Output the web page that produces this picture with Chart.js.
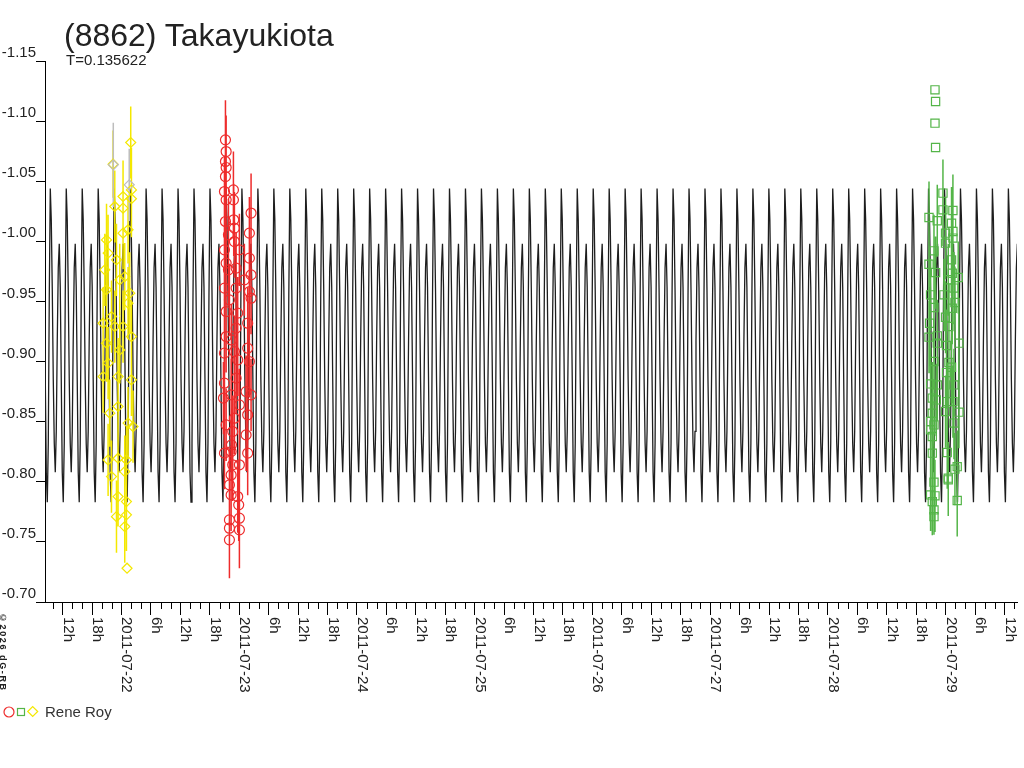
<!DOCTYPE html>
<html>
<head>
<meta charset="utf-8">
<script src="https://cdn.jsdelivr.net/npm/chart.js@4.4.1/dist/chart.umd.min.js"></script>
<style>
html,body{margin:0;padding:0;background:#fff;}
#wrap{position:relative;width:1024px;height:768px;overflow:hidden;font-family:"Liberation Sans",Arial,sans-serif;color:#222;}
#c{position:absolute;left:0;top:0;}
.title{position:absolute;left:64px;top:19px;font-size:32px;line-height:32px;white-space:nowrap;}
.sub{position:absolute;left:66px;top:52px;font-size:15px;line-height:15px;white-space:nowrap;}
.legsym{position:absolute;left:0;top:703px;}
.legtxt{position:absolute;left:45px;top:704px;font-size:15px;line-height:15px;color:#333;white-space:nowrap;}
.copy{position:absolute;left:-1px;top:613px;font-size:9px;line-height:8px;font-weight:bold;writing-mode:vertical-rl;letter-spacing:1.6px;color:#222;white-space:nowrap;}
</style>
</head>
<body>
<div id="wrap">
  <canvas id="c" width="1024" height="768"></canvas>
  <div class="title">(8862) Takayukiota</div>
  <div class="sub">T=0.135622</div>
  <svg class="legsym" width="44" height="18">
    <circle cx="9" cy="9" r="5" fill="none" stroke="#ee2c2c" stroke-width="1.2"/>
    <rect x="17.5" y="5.5" width="7" height="7" fill="none" stroke="#54b548" stroke-width="1.2"/>
    <polygon points="27.7,8.5 32.7,3.5 37.7,8.5 32.7,13.5" fill="none" stroke="#f4e800" stroke-width="1.2"/>
  </svg>
  <div class="legtxt">Rene Roy</div>
  <div class="copy">©2026 dG-RB</div>
</div>
<script>
// ---- axis ranges (days of July 2011, UT) ----
const xMin = 21.3506;
const xMax = 29.6060;
const yTicks = [-1.15, -1.10, -1.05, -1.00, -0.95, -0.90, -0.85, -0.80, -0.75, -0.70];
const dateLabels = ['2011-07-22','2011-07-23','2011-07-24','2011-07-25','2011-07-26','2011-07-27','2011-07-28','2011-07-29'];
const firstDateDay = 22;
const hourLabels = {6: '6h', 12: '12h', 18: '18h'};

// ---- lightcurve model: one cycle of the shape, repeated with period T ----
const period = 0.135622;
const epochMax = 21.6667;
const curveShape = [-1.044, -1.018, -0.960, -0.885, -0.832, -0.808, -0.842, -0.918,
                    -0.978, -0.998, -0.962, -0.885, -0.808, -0.783, -0.832, -0.955];

// ---- observations: yellow diamonds ----
const yellowT = [22.0787, 21.9289, 22.0847, 22.0135, 22.0847, 21.9433, 22.0135, 22.0135, 22.0559, 21.8730,
                 21.8865, 21.9577, 22.0279, 21.8730, 22.0703, 21.9153, 22.0135, 21.8730, 21.9856, 21.8865,
                 21.8442, 21.9712, 22.0847, 21.9712, 21.9009, 22.0559, 22.0982, 21.8865, 22.0423, 21.9712,
                 21.9153, 22.0279, 21.9712, 22.0423, 21.9577, 22.0423, 22.0279, 22.0474, 21.8442, 21.8586,
                 22.0559, 22.0847, 21.9433, 21.9856];
const yellowMag = [-1.0822, -1.0642, -1.0428, -1.0373, -1.0354, -1.0290, -1.0276, -1.0068, -1.0096, -1.0012,
                   -0.9902, -0.9846, -0.9707, -0.9597, -0.9569, -0.9374, -0.9291, -0.9153, -0.9097, -0.8987,
                   -0.8875, -0.8875, -0.8848, -0.8626, -0.8571, -0.8488, -0.8459, -0.8182, -0.8182, -0.8196,
                   -0.8043, -0.8085, -0.7877, -0.7835, -0.7710, -0.7725, -0.7627, -0.7281, -0.9319, -0.9763,
                   -0.9486, -0.9208, -0.9291, -0.9680];
const yellowErr = [0.030, 0.028, 0.035, 0.030, 0.032, 0.030, 0.025, 0.030, 0.028, 0.030,
                   0.032, 0.030, 0.028, 0.030, 0.034, 0.030, 0.030, 0.032, 0.028, 0.030,
                   0.030, 0.032, 0.030, 0.030, 0.028, 0.030, 0.030, 0.030, 0.028, 0.030,
                   0.030, 0.030, 0.025, 0.028, 0.030, 0.030, 0.030, 0.000, 0.030, 0.030,
                   0.030, 0.030, 0.030, 0.030];

// ---- grey (rejected) points ----
const greyT = [21.9306, 22.0660];
const greyMag = [-1.0636, -1.0470];
const greyErr = [0.035, 0.030];

// ---- red circles ----
const redT = [22.8832, 22.8891, 22.8832, 22.8891, 22.8832, 22.8747, 22.9509, 22.8891, 22.9509, 23.1008,
              22.8832, 22.9534, 23.0864, 22.9593, 22.8747, 22.9593, 23.0864, 22.8891, 22.9738, 23.1008,
              22.8747, 22.9738, 23.0864, 22.8891, 22.9873, 23.1008, 23.0720, 22.8891, 22.9738, 23.0720,
              22.8747, 22.9593, 23.0864, 22.8747, 22.9738, 22.8662, 23.0584, 23.1008, 22.8891, 22.9593,
              23.0720, 22.9450, 23.0584, 22.8747, 22.9314, 23.0720, 22.9450, 23.0017, 22.9314, 22.9170,
              22.9873, 22.9314, 22.9958, 22.9170, 23.0017, 22.9170, 23.0017, 22.9170, 22.9170, 22.9340,
              22.9873, 22.9314, 23.0017, 22.9086, 23.0017, 22.9086, 23.0440, 22.9340];
const redMag = [-1.0844, -1.0747, -1.0664, -1.0614, -1.0539, -1.0414, -1.0428, -1.0345, -1.0345, -1.0235,
                -1.0165, -1.0179, -1.0068, -1.0110, -0.9929, -0.9998, -0.9860, -0.9819, -0.9777, -0.9721,
                -0.9611, -0.9611, -0.9582, -0.9416, -0.9403, -0.9527, -0.9319, -0.9208, -0.9278, -0.9111,
                -0.9070, -0.9083, -0.9000, -0.8820, -0.8862, -0.8696, -0.8750, -0.8723, -0.8473, -0.8529,
                -0.8557, -0.8418, -0.8390, -0.8238, -0.8251, -0.8238, -0.8141, -0.8141, -0.8057, -0.7974,
                -0.7877, -0.7891, -0.7808, -0.7683, -0.7697, -0.7614, -0.7600, -0.7517, -0.9513, -0.9180,
                -0.9014, -0.8723, -0.8640, -0.9763, -0.9929, -1.0054, -0.9680, -0.8307];
const redErr = [0.033, 0.030, 0.030, 0.032, 0.030, 0.030, 0.032, 0.030, 0.030, 0.033,
                0.030, 0.030, 0.030, 0.030, 0.030, 0.030, 0.030, 0.030, 0.030, 0.030,
                0.030, 0.030, 0.030, 0.030, 0.030, 0.030, 0.030, 0.030, 0.030, 0.030,
                0.030, 0.030, 0.030, 0.030, 0.030, 0.030, 0.030, 0.030, 0.030, 0.030,
                0.030, 0.030, 0.030, 0.030, 0.030, 0.035, 0.030, 0.030, 0.030, 0.030,
                0.030, 0.030, 0.030, 0.030, 0.030, 0.030, 0.032, 0.032, 0.030, 0.030,
                0.030, 0.030, 0.030, 0.030, 0.030, 0.030, 0.030, 0.030];

// ---- green squares ----
const greenT = [28.9094, 28.9145, 28.9094, 28.9145, 28.9771, 28.9771, 29.0618, 28.8586, 28.9289, 29.0500,
                28.9992, 29.0618, 29.0618, 28.9992, 28.9009, 29.0500, 28.8586, 28.9145, 29.0559, 29.1067,
                29.0220, 29.0703, 28.8721, 28.9856, 28.9009, 29.0788, 29.0559, 28.9992, 28.8637, 29.0279,
                28.8586, 28.9289, 28.9289, 29.1126, 29.0076, 28.9009, 29.0279, 29.0500, 29.0076, 28.8721,
                28.9289, 29.0703, 28.9204, 28.8865, 29.0135, 29.0618, 28.9992, 29.1126, 28.8865, 28.8721,
                28.9009, 29.0703, 28.8721, 28.8865, 28.8865, 29.0135, 29.0982, 29.0788, 29.0220, 29.0220,
                28.9009, 28.8721, 28.9094, 28.8865, 29.0982, 28.9009, 28.9009];
const greenMag = [-1.1260, -1.1163, -1.0983, -1.0780, -1.0401, -1.0262, -1.0256, -1.0198, -1.0171, -1.0151,
                  -1.0068, -1.0082, -1.0027, -0.9985, -0.9921, -0.9846, -0.9810, -0.9740, -0.9735, -0.9699,
                  -0.9680, -0.9611, -0.9555, -0.9555, -0.9449, -0.9491, -0.9444, -0.9369, -0.9319, -0.9291,
                  -0.9203, -0.9214, -0.9153, -0.9153, -0.9133, -0.9000, -0.8992, -0.8953, -0.8908, -0.8814,
                  -0.8806, -0.8806, -0.8681, -0.8696, -0.8667, -0.8667, -0.8584, -0.8579, -0.8571, -0.8501,
                  -0.8473, -0.8488, -0.8432, -0.8376, -0.8238, -0.8243, -0.8126, -0.8105, -0.8030, -0.8016,
                  -0.7997, -0.7891, -0.7883, -0.7835, -0.7844, -0.7766, -0.7710];
const greenErr = [0.000, 0.000, 0.000, 0.000, 0.028, 0.030, 0.030, 0.030, 0.030, 0.030,
                  0.030, 0.030, 0.030, 0.030, 0.030, 0.030, 0.030, 0.030, 0.030, 0.030,
                  0.030, 0.030, 0.030, 0.030, 0.030, 0.030, 0.030, 0.030, 0.030, 0.030,
                  0.030, 0.030, 0.030, 0.030, 0.030, 0.030, 0.030, 0.030, 0.030, 0.030,
                  0.030, 0.030, 0.030, 0.030, 0.030, 0.030, 0.030, 0.030, 0.030, 0.030,
                  0.030, 0.030, 0.030, 0.030, 0.030, 0.030, 0.030, 0.030, 0.030, 0.030,
                  0.030, 0.030, 0.030, 0.028, 0.030, 0.020, 0.015];

// ---- colours ----
const RED = '#ee2c2c', GREEN = '#54b548', YELLOW = '#f4e800', GREY = '#bdbdbd', CURVE = '#1e1e1e';

function pts(T, M) { return T.map((t, i) => ({x: t, y: M[i]})); }
function bars(T, M, E) {
  const out = [];
  T.forEach((t, i) => {
    if (E[i] > 0) {
      out.push({x: t, y: M[i] - E[i]});
      out.push({x: t, y: M[i] + E[i]});
      out.push({x: t, y: null});
    }
  });
  return out;
}
const curve = [];
{
  const c0 = Math.floor((xMin - epochMax) / period) - 1;
  const c1 = Math.ceil((xMax - epochMax) / period) + 1;
  const n = curveShape.length;
  for (let c = c0; c <= c1; c++) {
    for (let j = 0; j < n; j++) curve.push({x: epochMax + (c + j / n) * period, y: curveShape[j]});
  }
}

function tickInfo(v) {
  const h = Math.round(v * 24);
  const hr = ((h % 24) + 24) % 24;
  const day = Math.floor(h / 24);
  if (hr === 0) return dateLabels[day - firstDateDay] || '';
  return hourLabels[hr] || '';
}

const xLabelPlugin = {
  id: 'xLabelPlugin',
  afterDraw(chart) {
    const sc = chart.scales.x;
    const ctx = chart.ctx;
    ctx.save();
    ctx.strokeStyle = '#000';
    ctx.lineWidth = 1;
    ctx.fillStyle = '#222';
    ctx.font = '15px "Liberation Sans", Arial, sans-serif';
    ctx.textAlign = 'left';
    ctx.textBaseline = 'alphabetic';
    sc.ticks.forEach(t => {
      const px = Math.round(sc.getPixelForValue(t.value)) + 0.5;
      const lab = tickInfo(t.value);
      if (!lab) {
        ctx.beginPath();
        ctx.moveTo(px, sc.top);
        ctx.lineTo(px, sc.top + 7);
        ctx.stroke();
      } else {
        ctx.save();
        ctx.translate(px + 0.5, sc.top + 15);
        ctx.rotate(Math.PI / 2);
        ctx.fillText(lab, 0, 0);
        ctx.restore();
      }
    });
    ctx.restore();
  }
};

const errStyle = (col) => ({showLine: true, borderColor: col, borderWidth: 1.5, pointRadius: 0, spanGaps: false, order: 5});
const ptStyle = (col, style, r) => ({showLine: false, pointStyle: style, pointRadius: r, pointBorderColor: col,
  pointBackgroundColor: 'rgba(0,0,0,0)', pointBorderWidth: 1.2, borderColor: col, backgroundColor: 'rgba(0,0,0,0)', order: 1});

new Chart(document.getElementById('c'), {
  type: 'scatter',
  data: {
    datasets: [
      Object.assign({label: 'model', data: curve, showLine: true, borderColor: CURVE, borderWidth: 1.3, pointRadius: 0, order: 10}),
      Object.assign({label: 'grey err', data: bars(greyT, greyMag, greyErr)}, errStyle(GREY)),
      Object.assign({label: 'yellow err', data: bars(yellowT, yellowMag, yellowErr)}, errStyle(YELLOW)),
      Object.assign({label: 'red err', data: bars(redT, redMag, redErr)}, errStyle(RED)),
      Object.assign({label: 'green err', data: bars(greenT, greenMag, greenErr)}, errStyle(GREEN)),
      Object.assign({label: 'grey', data: pts(greyT, greyMag)}, ptStyle(GREY, 'rectRot', 5)),
      Object.assign({label: 'yellow', data: pts(yellowT, yellowMag)}, ptStyle(YELLOW, 'rectRot', 5)),
      Object.assign({label: 'red', data: pts(redT, redMag)}, ptStyle(RED, 'circle', 5)),
      Object.assign({label: 'green', data: pts(greenT, greenMag)}, ptStyle(GREEN, 'rect', 5.8))
    ]
  },
  options: {
    responsive: false,
    animation: false,
    events: [],
    layout: {padding: {left: 0, right: 4, top: 61, bottom: 0}},
    plugins: {legend: {display: false}, tooltip: {enabled: false}, title: {display: false}},
    scales: {
      x: {
        type: 'linear',
        min: xMin,
        max: xMax,
        afterBuildTicks: (scale) => {
          const t = [];
          for (let k = Math.ceil(xMin * 12 - 1e-6); k <= Math.floor(xMax * 12 + 1e-6); k++) t.push({value: k / 12});
          scale.ticks = t;
        },
        afterFit: (scale) => { scale.height = 166; },
        ticks: {display: false},
        grid: {
          drawOnChartArea: false,
          drawTicks: true,
          tickLength: 13,
          lineWidth: 1,
          tickColor: (ctx) => (ctx.tick && tickInfo(ctx.tick.value)) ? '#000' : 'rgba(0,0,0,0)'
        },
        border: {display: true, color: '#000', width: 1}
      },
      y: {
        type: 'linear',
        min: -1.15,
        max: -0.70,
        reverse: true,
        afterBuildTicks: (scale) => { scale.ticks = yTicks.map(v => ({value: v})); },
        afterFit: (scale) => { scale.width = 45; },
        ticks: {
          callback: (v) => Number(v).toFixed(2),
          padding: 0,
          labelOffset: -8,
          color: '#222',
          font: {family: '"Liberation Sans", Arial, sans-serif', size: 15}
        },
        grid: {drawOnChartArea: false, drawTicks: true, tickLength: 9, tickColor: '#000', lineWidth: 1},
        border: {display: true, color: '#000', width: 1}
      }
    }
  },
  plugins: [xLabelPlugin]
});
</script>
</body>
</html>
